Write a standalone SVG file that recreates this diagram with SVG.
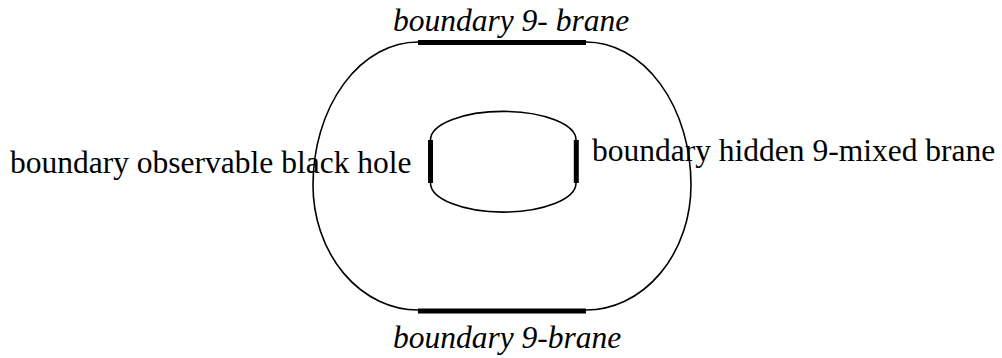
<svg xmlns="http://www.w3.org/2000/svg" width="1002" height="358" viewBox="0 0 1002 358">
<style>
.thin{fill:none;stroke:#000;stroke-width:1.6}
.thick{fill:none;stroke:#000;stroke-width:5}
.lbl{font-family:"Liberation Serif","Times New Roman",serif;font-size:31.5px;fill:#000}
.it{font-style:italic}
</style>
<rect width="1002" height="358" fill="#fff"/>
<g id="outer-boundary">
<path class="thin" d="M418,42 L586,42 A105,143 0 0 1 691,185 A105,125 0 0 1 586,310 L418,310 A105,125 0 0 1 313,185 A105,143 0 0 1 418,42 Z"/>
<line class="thick" x1="418" y1="42.5" x2="586" y2="42.5"/>
<line class="thick" x1="418" y1="311" x2="586" y2="311"/>
</g>
<g id="inner-boundary">
<path class="thin" d="M430.5,140 A72.5,28.5 0 0 1 576,140 L576,183 A72.5,29 0 0 1 430.5,183 Z"/>
<line class="thick" x1="430.5" y1="140" x2="430.5" y2="183"/>
<line class="thick" x1="576.3" y1="140" x2="576.3" y2="183"/>
</g>
<g id="labels">
<text class="lbl it" x="393" y="31">boundary 9- brane</text>
<text class="lbl it" x="393" y="348">boundary 9-brane</text>
<text class="lbl" x="10" y="173">boundary observable black hole</text>
<text class="lbl" x="592" y="161">boundary hidden 9-mixed brane</text>
</g>
</svg>
